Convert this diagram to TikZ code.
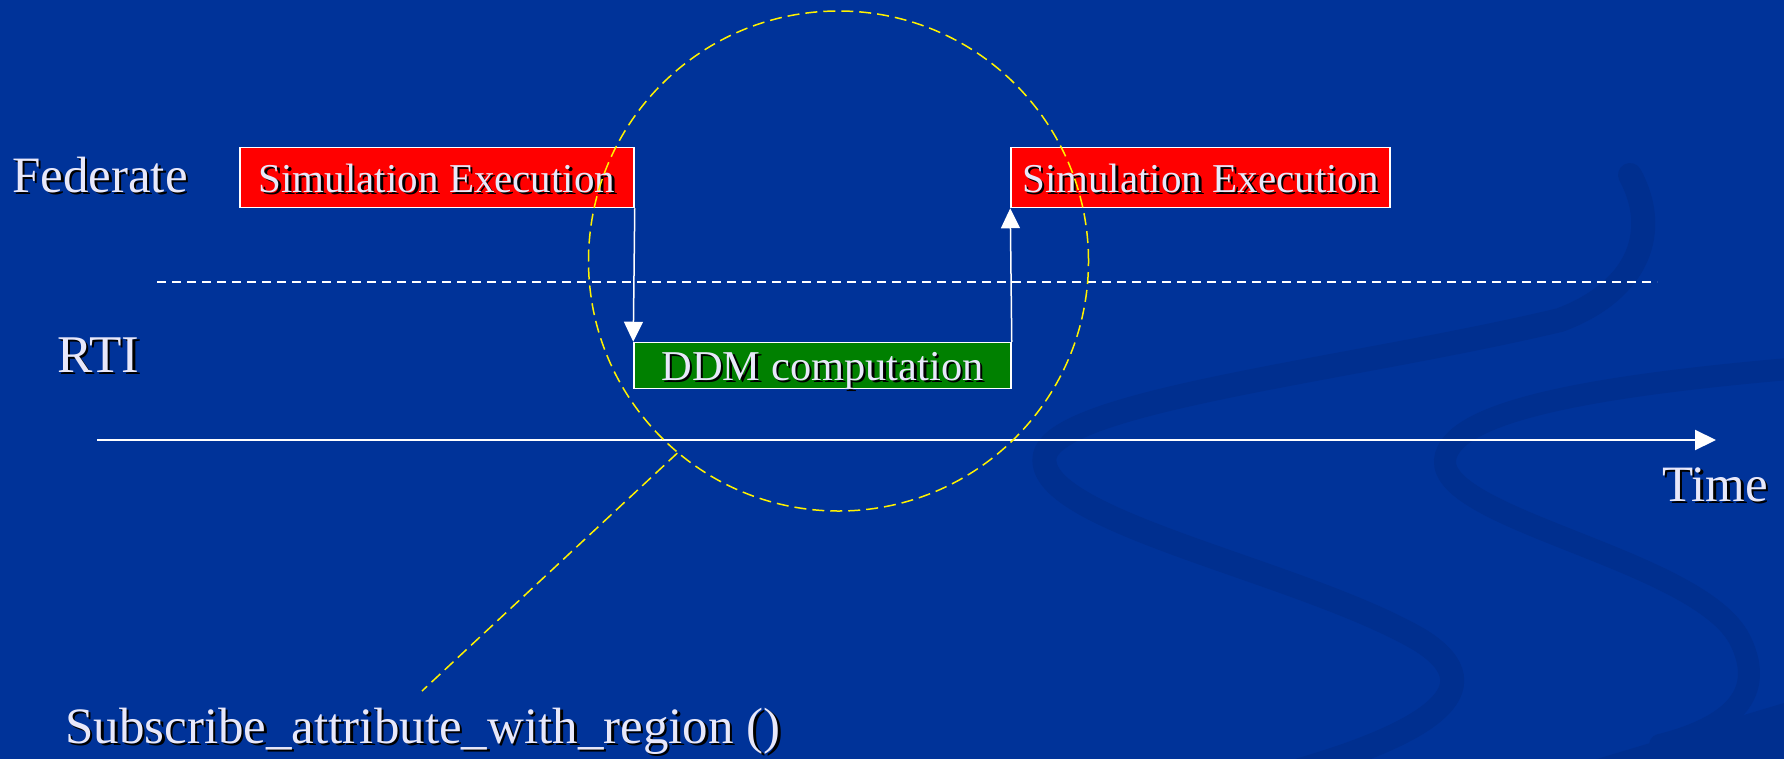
\documentclass[tikz,border=0pt]{standalone}
\usepackage{fontspec}
\setmainfont{Liberation Serif}
\usetikzlibrary{arrows.meta}
\definecolor{bgblue}{RGB}{0,51,153}
\definecolor{swirl}{RGB}{0,47,143}
\definecolor{txt}{RGB}{232,232,250}
\definecolor{boxred}{RGB}{255,0,0}
\definecolor{boxgreen}{RGB}{0,128,0}
\tikzset{
  lbl/.style={text=txt, inner sep=0pt},
  shd/.style={text=black, inner sep=0pt},
  bigfont/.style={font=\fontsize{51}{51}\selectfont},
  boxfont/.style={font=\fontsize{41}{41}\selectfont},
  ddmfont/.style={font=\fontsize{42.5}{42.5}\selectfont},
  stagebox/.style={draw=white, line width=1.5pt, inner sep=0pt, minimum height=60pt},
  flow/.style={draw=white, line width=1.5pt, -{Triangle[width=19pt,length=20pt]}},
  swirlband/.style={draw=swirl, line cap=round},
}
\newcommand\dropnode[4]{%
  \node[shd,#3,xshift=2.5pt,yshift=-2.5pt] (#1s) at (#2) {#4};
  \node[lbl,#3] (#1) at (#2) {#4};}
\begin{document}
\begin{tikzpicture}[x=1pt,y=-1pt]
\useasboundingbox (0,0) rectangle (1784,758);
\fill[bgblue] (-10,-10) rectangle (1794,768);
% background swirls
\draw[swirlband, line width=24pt] (1630,175) .. controls (1660,230) and (1640,290) .. (1560,320)
   .. controls (1350,370) and (1060,400) .. (1045,455)
   .. controls (1030,520) and (1300,570) .. (1420,640)
   .. controls (1500,690) and (1420,735) .. (1300,770);
\draw[swirlband, line width=22pt] (1800,368) .. controls (1600,385) and (1450,410) .. (1445,460)
   .. controls (1440,520) and (1700,560) .. (1740,640)
   .. controls (1770,700) and (1720,730) .. (1660,745);
\fill[swirl] (1560,770) -- (1794,700) -- (1794,770) -- cycle;
% boxes
\node[stagebox, fill=boxred, minimum width=394pt] (sim1) at (437,177.5) {};
\node[stagebox, fill=boxred, minimum width=379pt] (sim2) at (1200.5,177.5) {};
\node[stagebox, fill=boxgreen, minimum width=377pt, minimum height=46pt] (ddm) at (822.5,365.5) {};
\dropnode{sim1t}{437,192}{boxfont,anchor=base}{Simulation Execution}
\dropnode{sim2t}{1200.5,192}{boxfont,anchor=base}{Simulation Execution}
\dropnode{ddmt}{822.5,380}{ddmfont,anchor=base}{DDM computation}
% separator and time axis
\coordinate (dl) at (157,282);
\coordinate (dr) at (1657,282);
\draw[white, line width=1.5pt, dash pattern=on 9pt off 6pt] (dl) -- (dr);
\coordinate (t0) at (97,440);
\coordinate (t1) at (1716,440);
\draw[white, line width=2pt, -{Triangle[width=20pt,length=21pt]}] (t0) -- (t1);
% flow arrows
\draw[flow] (sim1.south east) -- (ddm.north west);
\draw[flow] (ddm.north east) -- (sim2.south west);
% labels
\dropnode{fed}{12,192}{bigfont,anchor=base west}{Federate}
\dropnode{rti}{57,372}{font=\fontsize{53}{53}\selectfont,anchor=base west}{RTI}
\dropnode{time}{1662,501}{bigfont,anchor=base west}{Time}
\dropnode{sub}{65,743}{bigfont,anchor=base west}{Subscribe\_attribute\_with\_region ()}
% focus circle and pointer
\node[draw=yellow, circle, line width=1.5pt, dash pattern=on 12pt off 6pt, inner sep=0pt, minimum size=500pt] (focus) at (838.5,261) {};
\coordinate (ptr) at (422,691);
\draw[yellow, line width=1.5pt, dash pattern=on 12pt off 6pt] (focus.230) -- (ptr);
\end{tikzpicture}
\end{document}
